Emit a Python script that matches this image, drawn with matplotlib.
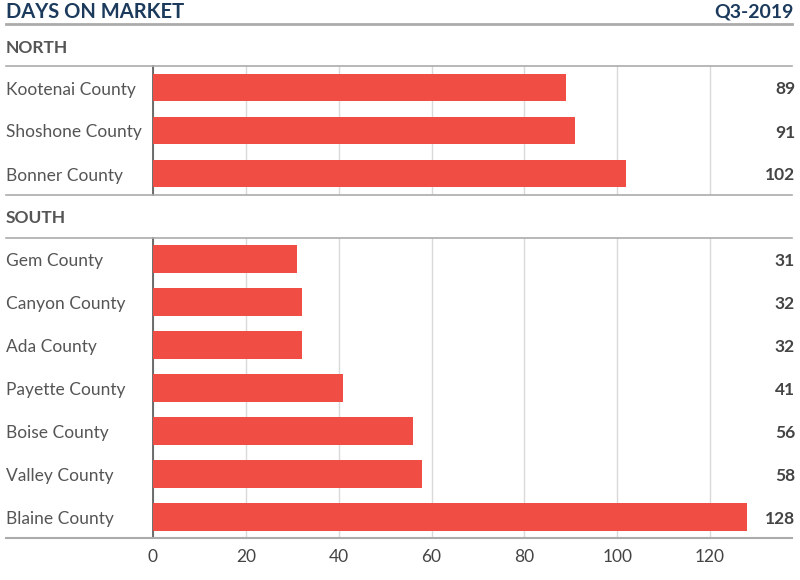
import matplotlib
matplotlib.use("Agg")
import matplotlib.pyplot as plt
from matplotlib.lines import Line2D

plt.rcParams['font.family'] = ['Lato', 'DejaVu Sans']

north_counties = ["Kootenai County", "Shoshone County", "Bonner County"]
north_days = [89, 91, 102]

south_counties = ["Gem County", "Canyon County", "Ada County", "Payette County",
                  "Boise County", "Valley County", "Blaine County"]
south_days = [31, 32, 32, 41, 56, 58, 128]

xticks = [0, 20, 40, 60, 80, 100, 120]

W, H = 800, 580
BAR = "#f04e45"
NAVY = "#1b3a5c"
TXT = "#555555"
RULE = "#ababab"

fig = plt.figure(figsize=(W / 100, H / 100), dpi=100)

def fx(px):
    return px / W

def fy(py):
    return 1 - py / H

x0 = 153
px_per_unit = (710 - 153) / 120
xmax = 135
axw = xmax * px_per_unit


def panel(top, bottom, names, vals, show_ticks):
    ax = fig.add_axes([fx(x0), fy(bottom), axw / W, (bottom - top) / H])
    pos = list(range(len(names)))
    ax.barh(pos, vals, height=0.65, color=BAR, zorder=3)
    ax.set_xlim(0, xmax)
    ax.set_ylim(len(names) - 0.5, -0.5)
    ax.set_xticks(xticks)
    ax.grid(axis="x", color="#d9d9d9", linewidth=1, zorder=0)
    for s in ["top", "right", "bottom"]:
        ax.spines[s].set_visible(False)
    ax.spines["left"].set_color("#555555")
    ax.spines["left"].set_linewidth(1.2)
    ax.set_yticks([])
    ax.tick_params(axis="x", length=0, pad=8, labelsize=12.5, labelcolor="#444444")
    if not show_ticks:
        ax.set_xticklabels([])
    for p, name, v in zip(pos, names, vals):
        yc = top + (p + 0.5) * (bottom - top) / len(names) + 2
        fig.text(fx(6), fy(yc), name, ha="left", va="center", fontsize=12.5, color=TXT)
        fig.text(fx(795), fy(yc), str(v), ha="right", va="center", fontsize=12.5,
                 color="#444444", fontweight="bold")
    return ax


def rule(py, lw=1.2):
    fig.add_artist(Line2D([fx(6), fx(792)], [fy(py), fy(py)], color=RULE, linewidth=lw))


fig.text(fx(6), fy(12), "DAYS ON MARKET", ha="left", va="center", fontsize=14.5,
         fontweight="bold", color=NAVY)
fig.text(fx(794), fy(12), "Q3-2019", ha="right", va="center", fontsize=14,
         fontweight="bold", color=NAVY)
rule(24, 2)

fig.text(fx(6), fy(48), "NORTH", ha="left", va="center", fontsize=12.5,
         fontweight="bold", color=TXT)
rule(66)
panel(66, 195, north_counties, north_days, False)
rule(195)

fig.text(fx(6), fy(218), "SOUTH", ha="left", va="center", fontsize=12.5,
         fontweight="bold", color=TXT)
rule(238)
panel(238, 538, south_counties, south_days, True)
rule(538, 1.5)

fig.savefig("out.png", dpi=100, facecolor="white")
